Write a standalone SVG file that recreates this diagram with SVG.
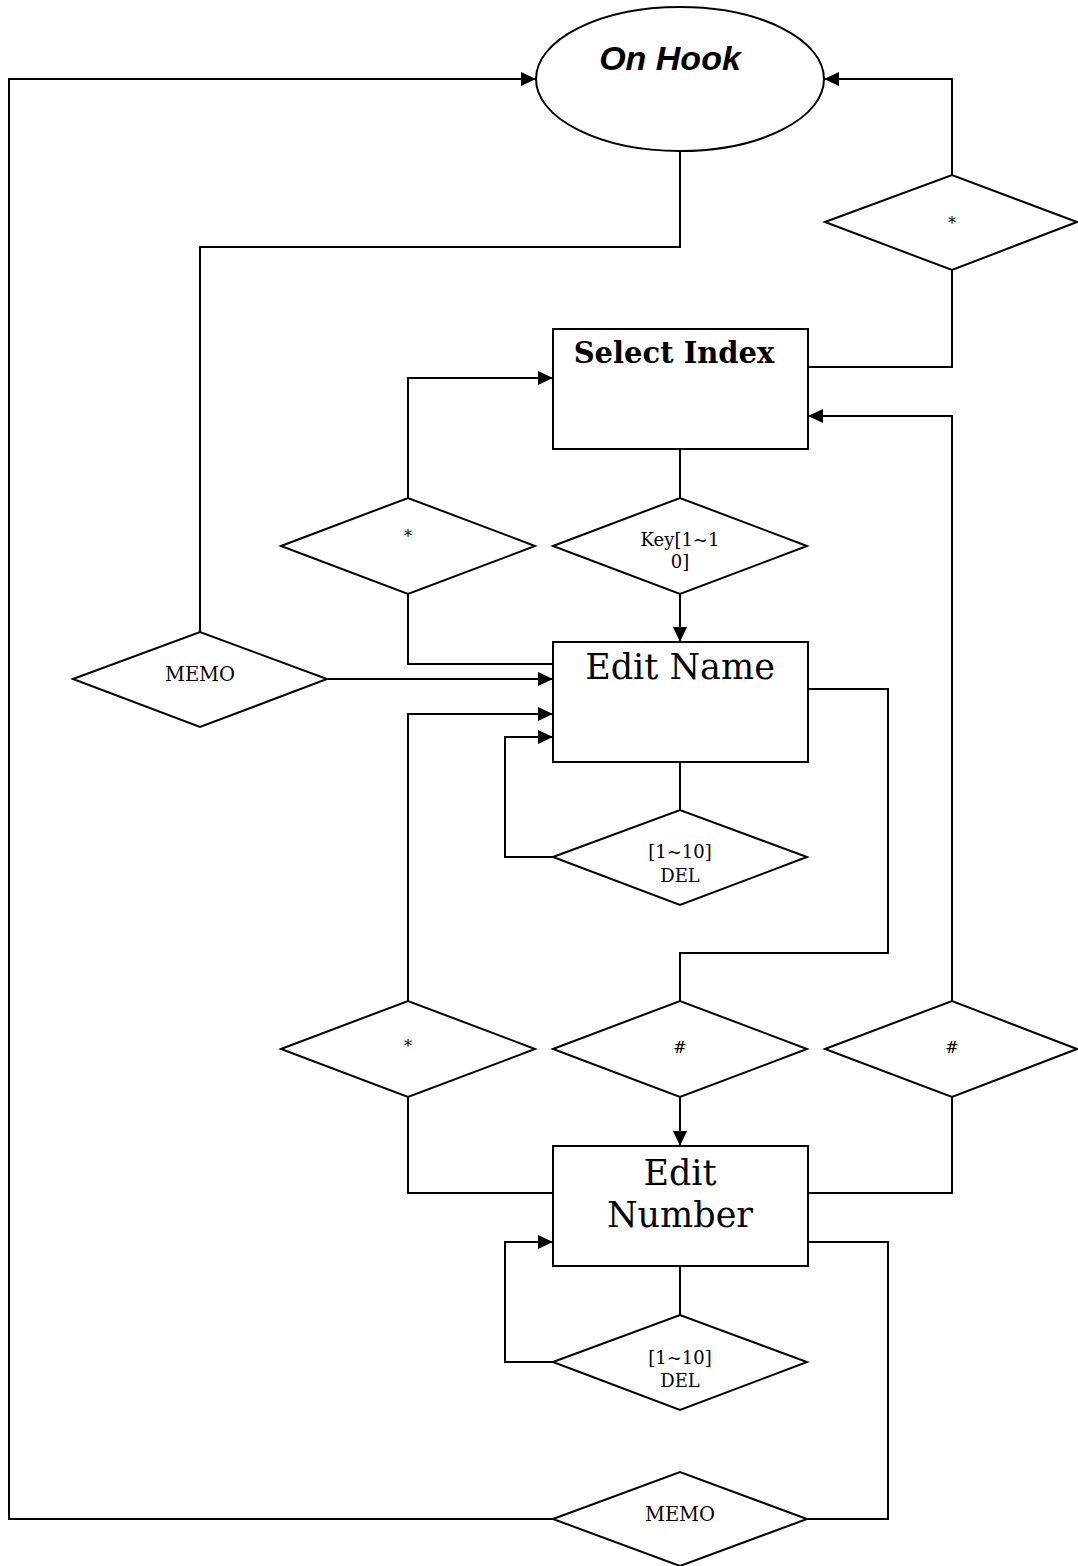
<svg xmlns="http://www.w3.org/2000/svg" width="1078" height="1566" viewBox="0 0 1078 1566">
<style>
.shape{fill:#fff;stroke:#000;stroke-width:2}
.conn{fill:none;stroke:#000;stroke-width:2}
.big{font-family:"DejaVu Serif","Liberation Serif",serif;font-size:35px;text-anchor:middle;fill:#000}
.bold{font-family:"DejaVu Serif","Liberation Serif",serif;font-size:29px;font-weight:bold;text-anchor:middle;fill:#000}
.small{font-family:"DejaVu Serif","Liberation Serif",serif;font-size:18px;text-anchor:middle;fill:#000}
.memo{font-family:"DejaVu Serif","Liberation Serif",serif;font-size:19.5px;text-anchor:middle;fill:#000}
.sym{font-family:"DejaVu Serif","Liberation Serif",serif;font-size:16px;text-anchor:middle;fill:#000}
.hook{font-family:"Liberation Sans",Arial,sans-serif;font-size:34px;font-weight:bold;font-style:italic;text-anchor:middle;fill:#000}
</style>
<defs>
<marker id="arr" markerUnits="userSpaceOnUse" markerWidth="16" markerHeight="16" refX="15" refY="7" orient="auto">
<path d="M0,0 L15,7 L0,14 Z" fill="#000"/>
</marker>
</defs>
<rect width="1078" height="1566" fill="#fff"/>
<g id="connectors">
<path class="conn" d="M553,1519 H9 V79 H536" marker-end="url(#arr)"/>
<path class="conn" d="M952,175 V79 H824" marker-end="url(#arr)"/>
<path class="conn" d="M808,367 H952 V270"/>
<path class="conn" d="M680,151 V247 H200 V632"/>
<path class="conn" d="M680,449 V498"/>
<path class="conn" d="M408,498 V378 H553" marker-end="url(#arr)"/>
<path class="conn" d="M680,594 V642" marker-end="url(#arr)"/>
<path class="conn" d="M408,594 V664 H553"/>
<path class="conn" d="M328,679 H553" marker-end="url(#arr)"/>
<path class="conn" d="M408,1001 V714 H553" marker-end="url(#arr)"/>
<path class="conn" d="M553,857 H505 V737 H553" marker-end="url(#arr)"/>
<path class="conn" d="M680,762 V810"/>
<path class="conn" d="M808,689 H888 V953 H680 V1001"/>
<path class="conn" d="M952,1001 V416 H808" marker-end="url(#arr)"/>
<path class="conn" d="M680,1097 V1146" marker-end="url(#arr)"/>
<path class="conn" d="M408,1097 V1193 H553"/>
<path class="conn" d="M952,1097 V1193 H808"/>
<path class="conn" d="M680,1266 V1315"/>
<path class="conn" d="M553,1362 H505 V1242 H553" marker-end="url(#arr)"/>
<path class="conn" d="M808,1242 H888 V1519 H808"/>
</g>
<g id="onhook">
<ellipse class="shape" cx="680" cy="79" rx="144" ry="72"/>
<text class="hook" x="670" y="70">On Hook</text>
</g>
<g id="star-top">
<polygon class="shape" points="825,222 952,175 1077,222 952,270"/>
<text class="sym" x="952" y="229">*</text>
</g>
<g id="select-index">
<rect class="shape" x="553" y="329" width="255" height="120"/>
<text class="bold" x="674" y="363">Select Index</text>
</g>
<g id="star-mid">
<polygon class="shape" points="281,546 408,498 535,546 408,594"/>
<text class="sym" x="408" y="542">*</text>
</g>
<g id="key">
<polygon class="shape" points="553,546 680,498 807,546 680,594"/>
<text class="small" x="680" y="546">Key[1~1</text>
<text class="small" x="680" y="568">0]</text>
</g>
<g id="memo-left">
<polygon class="shape" points="73,679 200,632 327,679 200,727"/>
<text class="memo" x="200" y="681">MEMO</text>
</g>
<g id="edit-name">
<rect class="shape" x="553" y="642" width="255" height="120"/>
<text class="big" x="680" y="679">Edit Name</text>
</g>
<g id="del-1">
<polygon class="shape" points="553,857 680,810 807,857 680,905"/>
<text class="small" x="680" y="858">[1~10]</text>
<text class="small" x="680" y="882">DEL</text>
</g>
<g id="star-low">
<polygon class="shape" points="281,1049 408,1001 535,1049 408,1097"/>
<text class="sym" x="408" y="1052">*</text>
</g>
<g id="hash-mid">
<polygon class="shape" points="553,1049 680,1001 807,1049 680,1097"/>
<text class="sym" x="680" y="1053">#</text>
</g>
<g id="hash-right">
<polygon class="shape" points="825,1049 952,1001 1077,1049 952,1097"/>
<text class="sym" x="952" y="1053">#</text>
</g>
<g id="edit-number">
<rect class="shape" x="553" y="1146" width="255" height="120"/>
<text class="big" x="680" y="1185">Edit</text>
<text class="big" x="680" y="1227">Number</text>
</g>
<g id="del-2">
<polygon class="shape" points="553,1362 680,1315 807,1362 680,1410"/>
<text class="small" x="680" y="1364">[1~10]</text>
<text class="small" x="680" y="1387">DEL</text>
</g>
<g id="memo-bottom">
<polygon class="shape" points="553,1519 680,1472 807,1519 680,1566"/>
<text class="memo" x="680" y="1521">MEMO</text>
</g>
</svg>
